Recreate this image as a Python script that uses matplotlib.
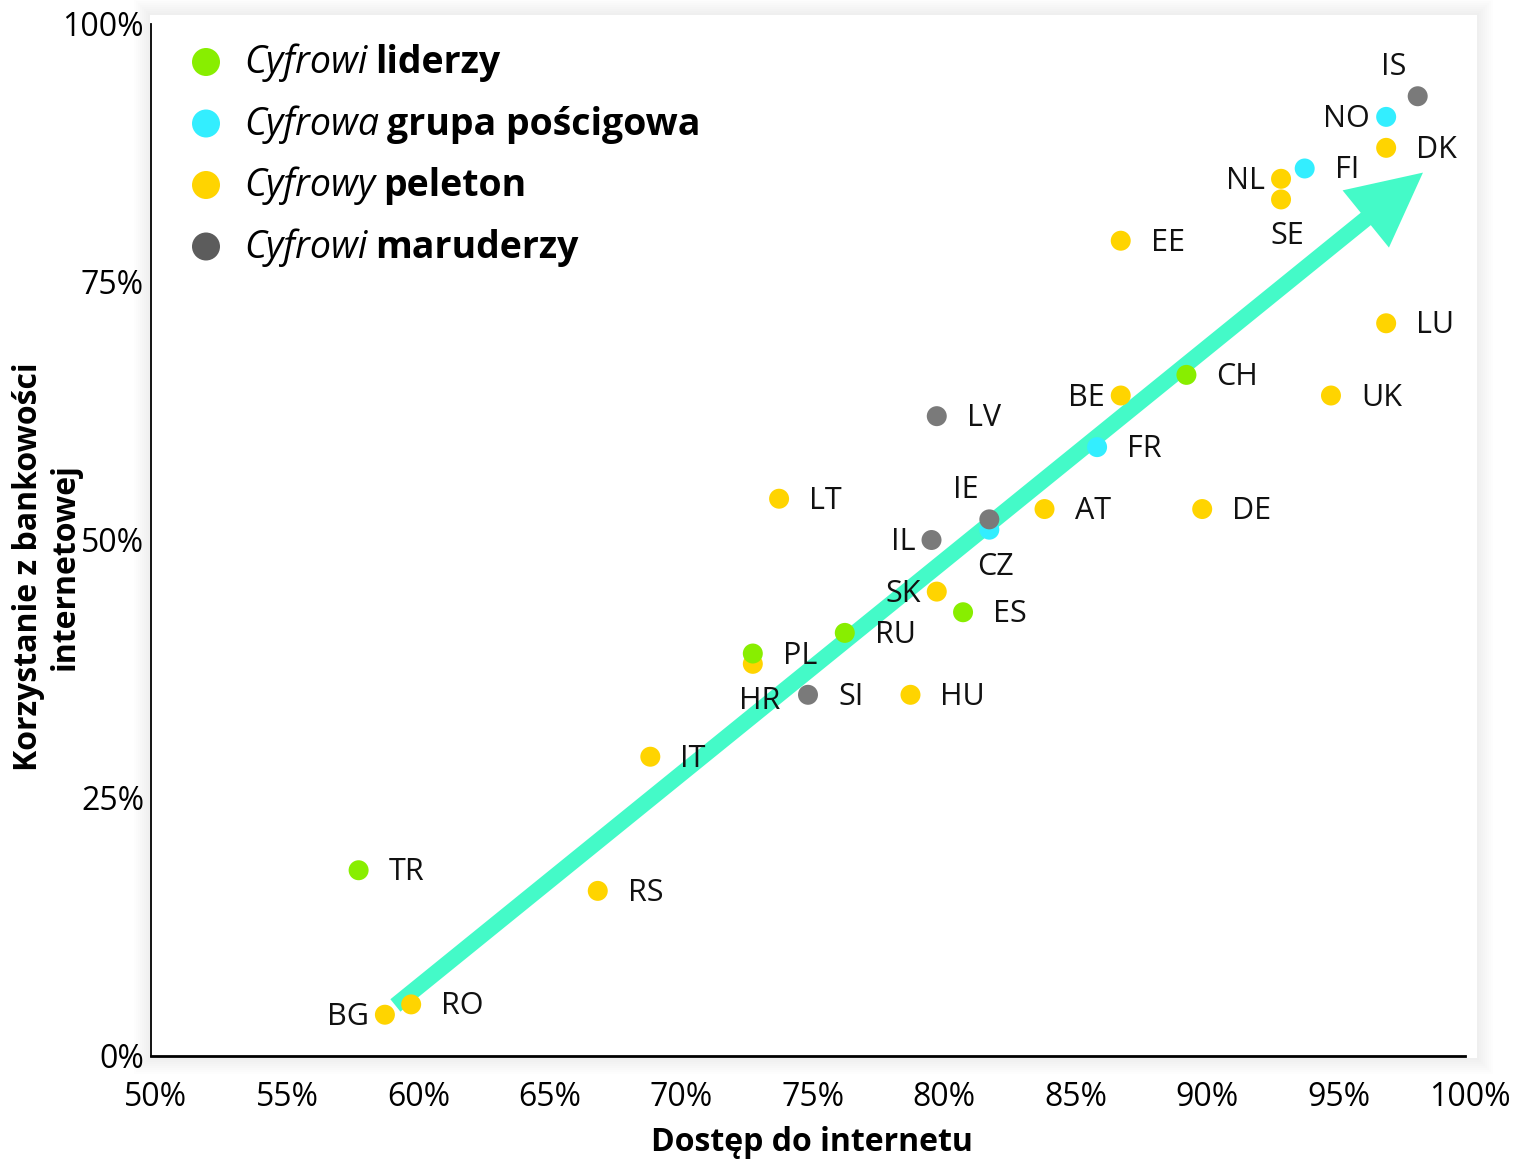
import matplotlib
matplotlib.use("Agg")
import matplotlib.pyplot as plt
from matplotlib.patches import Rectangle, Ellipse, FancyArrowPatch
from matplotlib.text import Annotation
from matplotlib.transforms import ScaledTranslation

plt.rcParams['font.family'] = ['Open Sans', 'DejaVu Sans']

# data: internet access (x, %) vs. online banking usage (y, %)
countries = ['IS', 'NO', 'DK', 'FI', 'NL', 'SE', 'EE', 'LU', 'CH', 'BE', 'UK',
             'FR', 'LV', 'LT', 'IE', 'CZ', 'AT', 'DE', 'IL', 'SK', 'ES', 'RU',
             'PL', 'HR', 'SI', 'HU', 'IT', 'TR', 'RS', 'RO', 'BG']
access = [98.2, 97.0, 97.0, 93.9, 93.0, 93.0, 86.9, 97.0, 89.4, 86.9, 94.9,
          86.0, 79.9, 73.9, 81.9, 81.9, 84.0, 90.0, 79.7, 79.9, 80.9, 76.4,
          72.9, 72.9, 75.0, 78.9, 69.0, 57.9, 67.0, 59.9, 58.9]
banking = [93, 91, 88, 86, 85, 83, 79, 71, 66, 64, 64,
           59, 62, 54, 52, 51, 53, 53, 50, 45, 43, 41,
           39, 38, 35, 35, 29, 18, 16, 5, 4]
groups = ['gray', 'chase', 'pel', 'chase', 'pel', 'pel', 'pel', 'pel', 'lead', 'pel', 'pel',
          'chase', 'gray', 'pel', 'gray', 'chase', 'pel', 'pel', 'gray', 'pel', 'lead', 'lead',
          'lead', 'pel', 'gray', 'pel', 'pel', 'lead', 'pel', 'pel', 'pel']

group_order = ['lead', 'chase', 'pel', 'gray']
legend_italic = ['Cyfrowi', 'Cyfrowa', 'Cyfrowy', 'Cyfrowi']
legend_bold = ['liderzy', 'grupa pościgowa', 'peleton', 'maruderzy']

arrow_start = (59.3, 4.9)
arrow_end = (98.4, 85.6)

x_ticks = [50, 55, 60, 65, 70, 75, 80, 85, 90, 95, 100]
y_ticks = [0, 25, 50, 75, 100]

# styling
colors = {'lead': '#88EE00', 'chase': '#33EEFF', 'pel': '#FFD400', 'gray': '#7A7A7A'}
legend_colors = {'lead': '#88EE00', 'chase': '#33EEFF', 'pel': '#FFD400', 'gray': '#5C5C5C'}
draw_order = ['pel', 'chase', 'lead', 'gray']

# label placement: (dx, dy) in pixels, ha
R = (30, -2, 'left')
L = (-16, -2, 'right')
B = (6, -37, 'center')
A = (-24, 29, 'center')
label_pos = {c: R for c in countries}
label_pos.update({'IS': A, 'IE': A, 'NO': L, 'NL': L, 'BE': L, 'IL': L, 'SK': L,
                  'BG': L, 'SE': B, 'CZ': B, 'HR': (7, -37, 'center')})

W, H = 1514, 1160
fig = plt.figure(figsize=(W / 100, H / 100), dpi=100)

# soft shadow + white panel behind the plot
x0, y0, x1, y1 = 150, 15, 1477, 1058
for i in range(8, 0, -1):
    p = 2 * i
    fig.patches.append(Rectangle(((x0 - p) / W, 1 - (y1 + p) / H),
                                 (x1 - x0 + 2 * p) / W, (y1 - y0 + 2 * p) / H,
                                 transform=fig.transFigure, facecolor='black',
                                 alpha=0.008, edgecolor='none', zorder=0))
fig.patches.append(Rectangle((x0 / W, 1 - y1 / H), (x1 - x0) / W, (y1 - y0) / H,
                             transform=fig.transFigure, facecolor='white',
                             edgecolor='none', zorder=0))

ax = fig.add_axes([151 / W, 1 - 1056 / H, (1465 - 151) / W, (1056 - 24) / H])
ax.set_zorder(1)
ax.patch.set_visible(False)
ax.set_xlim(50, 100)
ax.set_ylim(0, 100)

arrow = FancyArrowPatch(arrow_start, arrow_end,
                        arrowstyle='simple,head_length=5.3,head_width=5.3,tail_width=1.15',
                        mutation_scale=10, shrinkA=0, shrinkB=0,
                        color='#44FAC8', lw=0, zorder=2)
ax.add_patch(arrow)

for g in draw_order:
    xs = [x for x, gg in zip(access, groups) if gg == g]
    ys = [y for y, gg in zip(banking, groups) if gg == g]
    ax.scatter(xs, ys, s=207, color=colors[g], edgecolors='none', zorder=3)

for c, x, y in zip(countries, access, banking):
    dx, dy, ha = label_pos[c]
    ax.annotate(c, (x, y), xytext=(dx, dy), textcoords='offset pixels',
                ha=ha, va='center', fontsize=22, color='#111111', zorder=4)

# legend
for i, g in enumerate(group_order):
    yy = 1 - (62 + i * 61.5) / H
    fig.patches.append(Ellipse((206 / W, yy), 28 / W, 28 / H,
                               transform=fig.transFigure,
                               facecolor=legend_colors[g],
                               edgecolor='none', zorder=5))
    t = fig.text(244 / W, yy - 11 / H, legend_italic[i], style='italic',
                 fontsize=27, va='baseline', ha='left', zorder=5)
    b = Annotation(legend_bold[i], xy=(1, yy - 11 / H), xycoords=(t, 'figure fraction'),
                   xytext=(8, 0), textcoords='offset pixels', fontweight='bold',
                   fontsize=27, va='baseline', ha='left', zorder=5)
    b.set_figure(fig)
    fig.texts.append(b)

ax.set_xticks(x_ticks)
ax.set_xticklabels([f'{v}%' for v in x_ticks])
ax.set_yticks(y_ticks)
ax.set_yticklabels([f'{v}%' for v in y_ticks])
ax.tick_params(length=0, labelsize=23)
ax.tick_params(axis='x', pad=18)
ax.tick_params(axis='y', pad=5)
shift = ScaledTranslation(5 / 100, 0, fig.dpi_scale_trans)
for lab in ax.get_xticklabels():
    lab.set_transform(lab.get_transform() + shift)

for s in ['top', 'right']:
    ax.spines[s].set_visible(False)
ax.spines['left'].set_linewidth(1.3)
ax.spines['bottom'].set_linewidth(2)

ax.set_xlabel('Dostęp do internetu', fontsize=23, fontweight='bold')
ax.xaxis.set_label_coords(0.503, -0.068)
ax.set_ylabel('Korzystanie z bankowości\ninternetowej', fontsize=23,
              fontweight='bold', linespacing=1.15)
ax.yaxis.set_label_coords(-0.053, 0.474)

fig.savefig('out.png', dpi=100)
